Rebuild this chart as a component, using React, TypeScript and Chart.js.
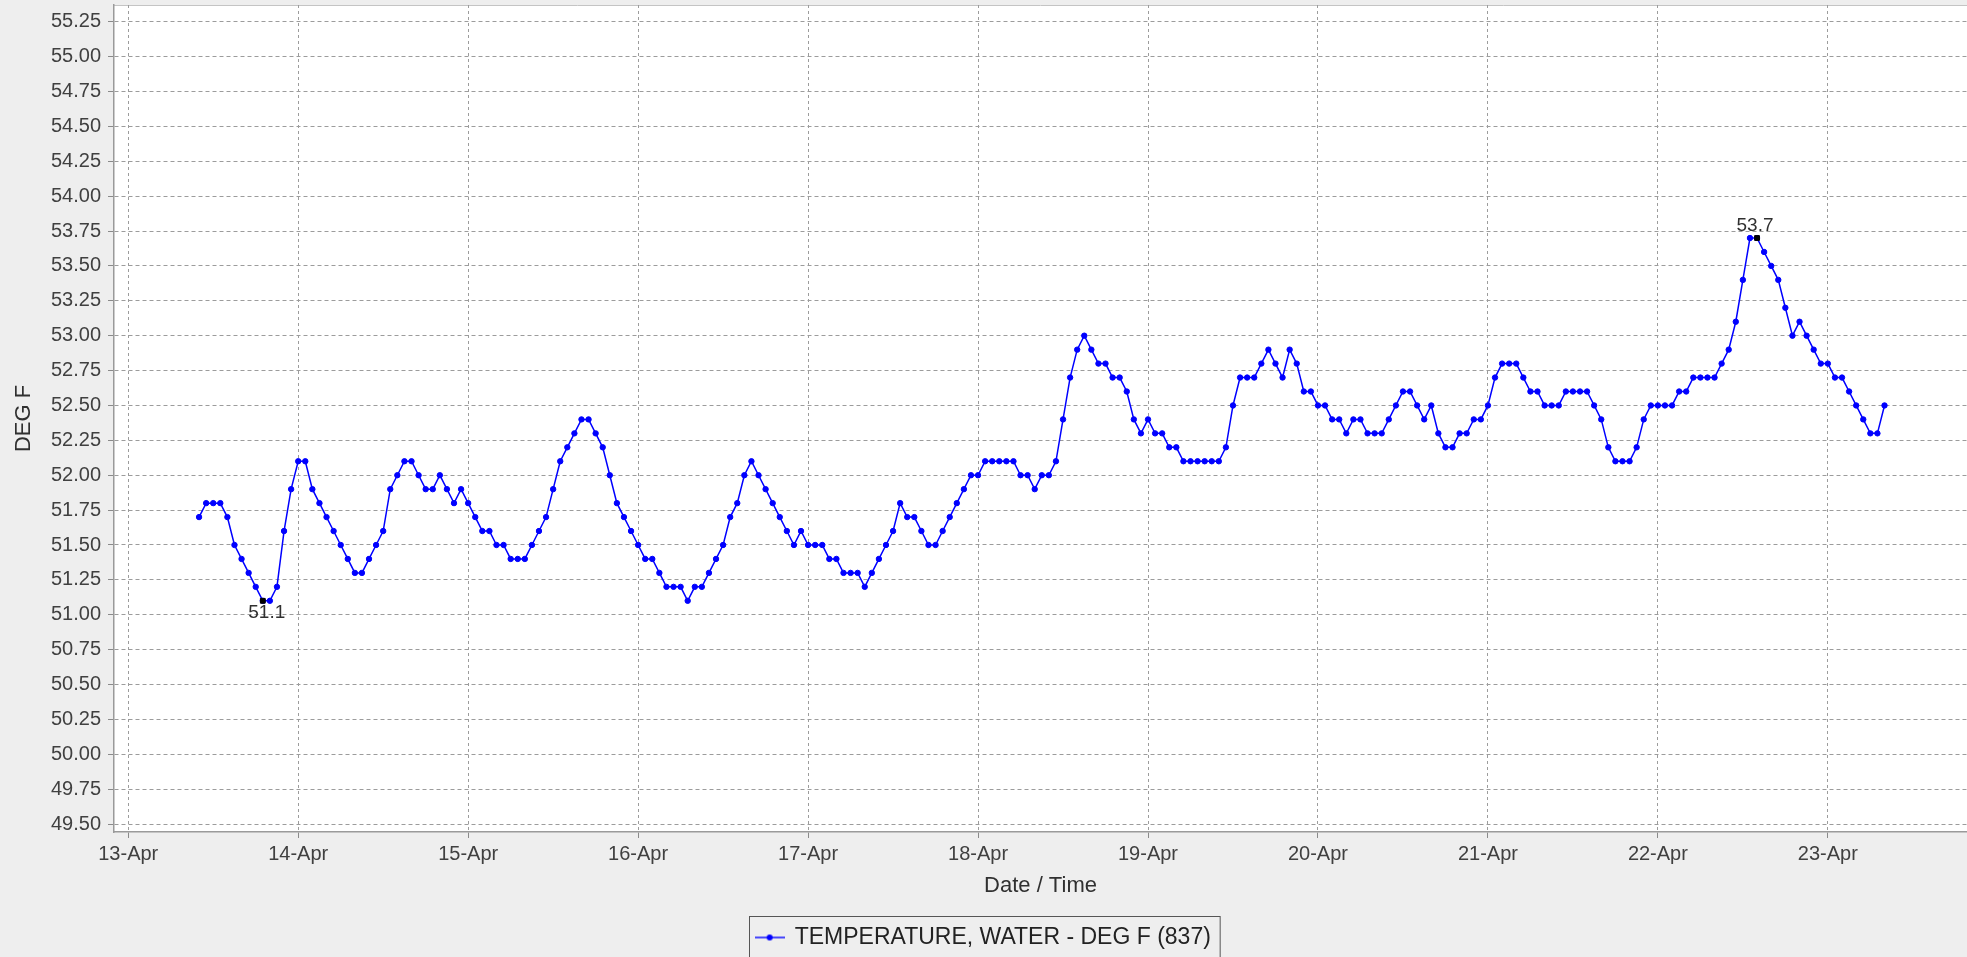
import React, { useEffect, useRef } from 'react';
import { Chart, registerables } from 'chart.js';

Chart.register(...registerables);

// ---- data ----
// hourly readings, first one at 13-Apr 10:00
const START_HOUR = 10;
const tempValues: number[] = [
  51.7, 51.8, 51.8, 51.8, 51.7, 51.5, 51.4, 51.3, 51.2, 51.1, 51.1, 51.2,
  51.6, 51.9, 52.1, 52.1, 51.9, 51.8, 51.7, 51.6, 51.5, 51.4, 51.3, 51.3,
  51.4, 51.5, 51.6, 51.9, 52.0, 52.1, 52.1, 52.0, 51.9, 51.9, 52.0, 51.9,
  51.8, 51.9, 51.8, 51.7, 51.6, 51.6, 51.5, 51.5, 51.4, 51.4, 51.4, 51.5,
  51.6, 51.7, 51.9, 52.1, 52.2, 52.3, 52.4, 52.4, 52.3, 52.2, 52.0, 51.8,
  51.7, 51.6, 51.5, 51.4, 51.4, 51.3, 51.2, 51.2, 51.2, 51.1, 51.2, 51.2,
  51.3, 51.4, 51.5, 51.7, 51.8, 52.0, 52.1, 52.0, 51.9, 51.8, 51.7, 51.6,
  51.5, 51.6, 51.5, 51.5, 51.5, 51.4, 51.4, 51.3, 51.3, 51.3, 51.2, 51.3,
  51.4, 51.5, 51.6, 51.8, 51.7, 51.7, 51.6, 51.5, 51.5, 51.6, 51.7, 51.8,
  51.9, 52.0, 52.0, 52.1, 52.1, 52.1, 52.1, 52.1, 52.0, 52.0, 51.9, 52.0,
  52.0, 52.1, 52.4, 52.7, 52.9, 53.0, 52.9, 52.8, 52.8, 52.7, 52.7, 52.6,
  52.4, 52.3, 52.4, 52.3, 52.3, 52.2, 52.2, 52.1, 52.1, 52.1, 52.1, 52.1,
  52.1, 52.2, 52.5, 52.7, 52.7, 52.7, 52.8, 52.9, 52.8, 52.7, 52.9, 52.8,
  52.6, 52.6, 52.5, 52.5, 52.4, 52.4, 52.3, 52.4, 52.4, 52.3, 52.3, 52.3,
  52.4, 52.5, 52.6, 52.6, 52.5, 52.4, 52.5, 52.3, 52.2, 52.2, 52.3, 52.3,
  52.4, 52.4, 52.5, 52.7, 52.8, 52.8, 52.8, 52.7, 52.6, 52.6, 52.5, 52.5,
  52.5, 52.6, 52.6, 52.6, 52.6, 52.5, 52.4, 52.2, 52.1, 52.1, 52.1, 52.2,
  52.4, 52.5, 52.5, 52.5, 52.5, 52.6, 52.6, 52.7, 52.7, 52.7, 52.7, 52.8,
  52.9, 53.1, 53.4, 53.7, 53.7, 53.6, 53.5, 53.4, 53.2, 53.0, 53.1, 53.0,
  52.9, 52.8, 52.8, 52.7, 52.7, 52.6, 52.5, 52.4, 52.3, 52.3, 52.5,
];

// x ticks: days since 13-Apr 00:00
const xTickDays = [0, 1, 2, 3, 4, 5, 6, 7, 8, 9, 10];
const xTickLabels = [
  '13-Apr', '14-Apr', '15-Apr', '16-Apr', '17-Apr', '18-Apr',
  '19-Apr', '20-Apr', '21-Apr', '22-Apr', '23-Apr',
];
const yTicks = [
  49.5, 49.75, 50.0, 50.25, 50.5, 50.75, 51.0, 51.25, 51.5, 51.75, 52.0, 52.25,
  52.5, 52.75, 53.0, 53.25, 53.5, 53.75, 54.0, 54.25, 54.5, 54.75, 55.0, 55.25,
];
// min / max annotations (index into tempValues)
const extremeIndex = [9, 220];
const extremeLabels = ['51.1', '53.7'];

const seriesLabel = 'TEMPERATURE, WATER - DEG F (837)';
const xTitle = 'Date / Time';
const yTitle = 'DEG F';

// ---- styling ----
const W = 1967;
const H = 960;
const FONT = "'Liberation Sans', Arial, Helvetica, sans-serif";
const X_MIN = -0.0838;
const X_MAX = 10.8187;
const Y_MIN = 49.443;
const Y_MAX = 55.37;
const TEXT = '#404040';
const GRID = '#9c9c9c';
const BLUE = '#0000ff';
// label offsets for extremes annotations: [dx, dy]
const extremeLabelOffsets = [
  [4, 12],
  [-2, -12],
];

function makeLegendSymbol(): HTMLCanvasElement {
  const c = document.createElement('canvas');
  c.width = 30;
  c.height = 8;
  const g = c.getContext('2d')!;
  g.strokeStyle = BLUE;
  g.lineWidth = 1.4;
  g.beginPath();
  g.moveTo(0, 4);
  g.lineTo(30, 4);
  g.stroke();
  g.fillStyle = BLUE;
  g.beginPath();
  g.arc(15, 4, 3, 0, Math.PI * 2);
  g.fill();
  return c;
}

const decorPlugin = {
  id: 'decor',
  beforeDraw(chart: any) {
    const { ctx, chartArea: a, width, height } = chart;
    ctx.save();
    ctx.fillStyle = '#eeeeee';
    ctx.fillRect(0, 0, width, height);
    ctx.fillStyle = '#ffffff';
    ctx.fillRect(a.left, a.top, a.right - a.left, a.bottom - a.top);
    ctx.strokeStyle = '#c4c4c4';
    ctx.lineWidth = 1;
    ctx.beginPath();
    ctx.moveTo(a.left, a.top + 0.5);
    ctx.lineTo(a.right, a.top + 0.5);
    ctx.stroke();
    ctx.restore();
  },
  afterDatasetsDraw(chart: any) {
    const { ctx } = chart;
    const meta = chart.getDatasetMeta(0);
    ctx.save();
    ctx.font = `19px ${FONT}`;
    ctx.fillStyle = '#303030';
    ctx.textAlign = 'center';
    ctx.textBaseline = 'middle';
    meta.data.forEach((pt: any, i: number) => {
      const [dx, dy] = extremeLabelOffsets[i];
      ctx.fillText(extremeLabels[i], pt.x + dx, pt.y + dy);
    });
    ctx.restore();
  },
  afterDraw(chart: any) {
    const lg = chart.legend;
    if (!lg || !lg.legendHitBoxes || !lg.legendHitBoxes.length) return;
    const hb = lg.legendHitBoxes[0];
    const cy = hb.top + hb.height / 2;
    const { ctx } = chart;
    ctx.save();
    ctx.strokeStyle = '#555555';
    ctx.lineWidth = 1;
    ctx.strokeRect(Math.round(hb.left - 7) + 0.5, Math.round(cy - 21.5) + 0.5, hb.width + 16, 60);
    ctx.restore();
  },
};

export default function App() {
  const ref = useRef<HTMLCanvasElement | null>(null);

  useEffect(() => {
    if (!ref.current) return;
    Chart.defaults.font.family = FONT;
    const symbol = makeLegendSymbol();
    const toXY = (i: number) => ({ x: (START_HOUR + i) / 24, y: tempValues[i] });

    const chart = new Chart(ref.current, {
      type: 'line',
      data: {
        datasets: [
          {
            label: 'extremes',
            data: extremeIndex.map(toXY),
            showLine: false,
            pointStyle: 'rect',
            pointRadius: 3.4,
            pointBackgroundColor: '#000000',
            pointBorderColor: '#000000',
            pointBorderWidth: 1,
            order: 0,
          },
          {
            label: seriesLabel,
            data: tempValues.map((_, i) => toXY(i)),
            borderColor: BLUE,
            backgroundColor: BLUE,
            borderWidth: 1.5,
            pointRadius: 2.7,
            pointBackgroundColor: BLUE,
            pointBorderColor: BLUE,
            pointBorderWidth: 1,
            tension: 0,
            order: 1,
          },
        ],
      } as any,
      options: {
        responsive: false,
        animation: false,
        events: [],
        layout: { autoPadding: false, padding: { top: 5, left: 0, right: 0, bottom: 1 } },
        plugins: {
          tooltip: { enabled: false },
          legend: {
            display: true,
            position: 'bottom',
            labels: {
              usePointStyle: true,
              pointStyleWidth: 27,
              padding: 27,
              color: '#222222',
              font: { size: 23, family: FONT },
              generateLabels: () => [
                {
                  text: seriesLabel,
                  pointStyle: symbol as any,
                  fillStyle: BLUE,
                  strokeStyle: BLUE,
                  lineWidth: 0,
                  hidden: false,
                  datasetIndex: 1,
                  fontColor: '#222222',
                } as any,
              ],
            },
          },
        },
        scales: {
          x: {
            type: 'linear',
            min: X_MIN,
            max: X_MAX,
            afterBuildTicks: (s: any) => {
              s.ticks = xTickDays.map((v) => ({ value: v }));
            },
            afterFit: (s: any) => {
              s.height = 67;
              s.paddingLeft = 0;
              s.paddingRight = 0;
            },
            ticks: {
              autoSkip: false,
              maxRotation: 0,
              padding: 4,
              color: TEXT,
              font: { size: 20, family: FONT },
              callback: (v: any) => {
                const i = xTickDays.indexOf(Number(v));
                return i >= 0 ? xTickLabels[i] : '';
              },
            },
            grid: {
              color: GRID,
              lineWidth: 1,
              tickLength: 6,
              tickColor: '#8a8a8a',
              tickBorderDash: [],
            } as any,
            border: { display: true, color: '#9a9a9a', width: 1.5, dash: [3, 3] } as any,
            title: {
              display: true,
              text: xTitle,
              color: '#303030',
              font: { size: 22, family: FONT },
              padding: { top: 0, bottom: 0 },
            },
          },
          y: {
            type: 'linear',
            min: Y_MIN,
            max: Y_MAX,
            afterBuildTicks: (s: any) => {
              s.ticks = yTicks.map((v) => ({ value: v }));
            },
            afterFit: (s: any) => {
              s.width = 114;
              s.paddingTop = 0;
              s.paddingBottom = 0;
            },
            ticks: {
              autoSkip: false,
              padding: 7,
              color: TEXT,
              font: { size: 20, family: FONT },
              callback: (v: any) => Number(v).toFixed(2),
            },
            grid: {
              color: GRID,
              lineWidth: 1,
              tickLength: 6,
              tickColor: '#8a8a8a',
              tickBorderDash: [],
            } as any,
            border: { display: true, color: '#9a9a9a', width: 1.5, dash: [4, 3] } as any,
            title: {
              display: true,
              text: yTitle,
              color: '#303030',
              font: { size: 22, family: FONT },
              padding: { top: 11, bottom: 0 },
            },
          },
        },
      } as any,
      plugins: [decorPlugin],
    });
    return () => chart.destroy();
  }, []);

  return (
    <div
      style={{
        position: 'fixed',
        left: 0,
        top: 0,
        width: W,
        height: 957,
        overflow: 'hidden',
        background: '#eeeeee',
      }}
    >
      <canvas ref={ref} width={W} height={H} style={{ display: 'block', width: W, height: H }} />
    </div>
  );
}
